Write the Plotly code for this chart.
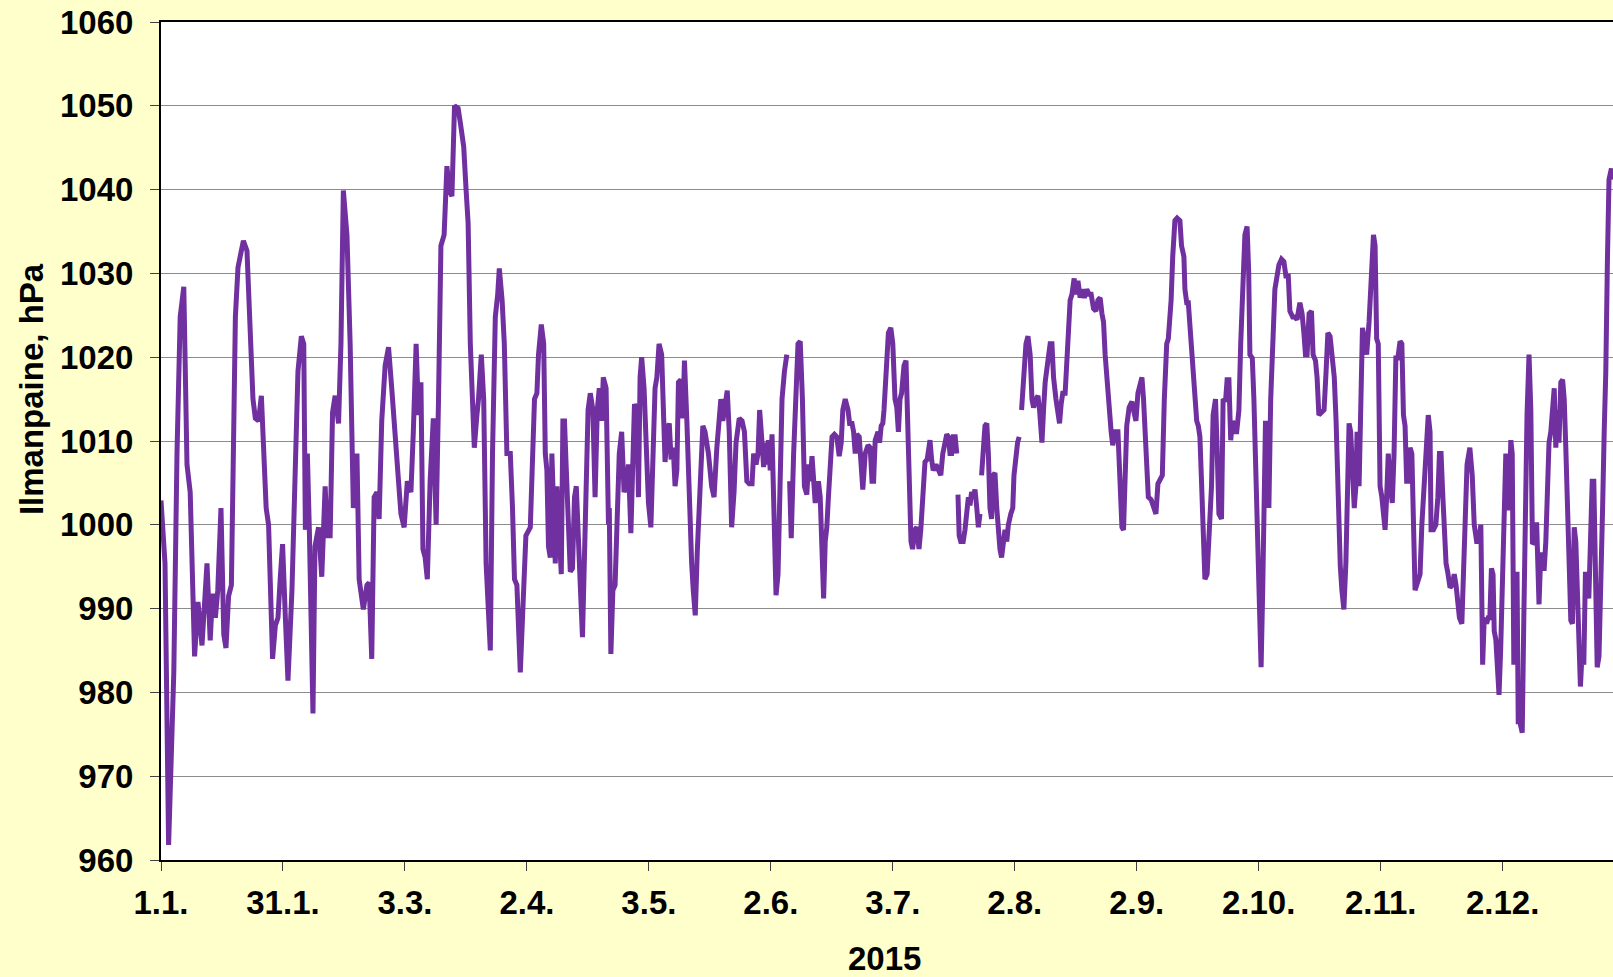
import plotly.graph_objects as go

# Air pressure 2015, day of year (0 = 1 Jan 00:00) and pressure in hPa.
# None marks missing observations (gaps in the line).
days = [
    0.0, 1.0, 1.9, 3.2, 4.0, 4.8, 5.7, 6.5, 7.3, 7.75, 8.4, 9.25, 10.25, 11.5, 12.3, 12.9, 13.6, 14.2,
    15.0, 15.7, 16.25, 16.9, 17.6, 18.2, 18.6, 19.25, 19.8, 20.6, 21.5, 22.3, 23.0, 23.6, 24.4, 25.1,
    25.7, 26.3, 26.9, 27.3, 27.9, 28.6, 29.25, 29.8, 30.4, 31.1, 31.75, 32.75, 33.6, 34.25, 35.1, 35.7,
    36.1, 36.6, 37.1, 38.0, 38.5, 39.4, 40.2, 41.05, 41.6, 42.3, 42.9, 43.55, 44.4, 45.0, 45.6, 46.5,
    47.3, 48.1, 49.0, 49.55, 50.6, 51.5, 52.05, 52.7, 53.3, 54.0, 54.55, 55.2, 56.05, 56.9, 57.7, 58.55,
    59.4, 60.0, 60.8, 61.6, 62.5, 63.1, 63.8, 64.4, 65.0, 65.5, 66.05, 66.6, 67.3, 68.1, 68.8, 69.4,
    70.0, 70.8, 71.5, 72.1, 72.75, 73.4, 74.3, 74.85, 75.7, 76.3, 76.8, 77.35, 77.8, 78.35, 79.0, 79.4,
    80.1, 80.7, 81.3, 81.8, 82.35, 82.9, 83.6, 84.2, 84.6, 85.3, 85.85, 86.5, 87.35, 87.9, 88.4, 89.0,
    89.85, 90.4, 90.85, 91.25, 92.35, 92.9, 93.4, 94.0, 94.4, 95.1, 95.7, 96.1, 96.5, 96.9, 97.35, 97.75,
    98.2, 98.6, 99.0, 99.6, 100.1, 100.5, 100.9, 101.3, 101.8, 102.35, 102.9, 103.4, 103.85, 104.25,
    104.85, 105.4, 106.1, 106.8, 107.35, 108.0, 108.55, 109.1, 109.6, 110.2, 110.6, 111.3, 111.9, 112.1,
    112.5, 113.0, 113.55, 114.1, 114.6, 115.2, 115.8, 116.3, 116.9, 117.5, 118.0, 118.4, 119.0, 119.4,
    119.8, 120.2, 120.8, 121.3, 121.9, 122.5, 123.0, 123.55, 124.0, 124.55, 125.2, 125.6, 126.05, 126.6,
    127.1, 127.55, 128.1, 128.55, 129.0, 129.4, 130.0, 130.5, 130.9, 131.5, 131.9, 132.3, 132.7, 133.1,
    133.6, 134.1, 134.8, 135.5, 136.05, 136.9, 137.7, 138.3, 139.0, 139.4, 140.0, 140.5, 141.05, 141.6,
    142.1, 142.7, 143.3, 143.8, 144.6, 145.3, 145.9, 146.5, 147.1, 147.8, 148.2, 148.8, 149.3, 149.7,
    150.3, 150.7, 151.1, 151.5, 151.9, 152.35, 152.8, 153.2, 153.8, 154.3, 154.7, 155.3, 155.9, 156.5,
    156.85, 157.2, 157.6, 158.2, 158.6, 159.3, 159.85, 160.4, 160.9, 161.5, 161.9, 162.35, 162.8, 163.2,
    163.6, 164.0, 164.4, 164.85, 165.3, 165.7, 166.1, 166.5, 166.9, 167.35, 167.8, 168.4, 169.0, 169.6,
    170.1, 170.5, 171.1, 171.8, 172.2, 172.8, 173.2, 173.6, 174.0, 174.6, 175.1, 175.5, 176.1, 176.8,
    177.35, 177.8, 178.2, 178.6, 179.3, 179.7, 180.1, 180.5, 180.8, 181.3, 181.9, 182.5, 183.0, 183.55,
    184.0, 184.4, 184.8, 185.2, 185.8, 186.3, 186.7, 187.1, 187.55, 187.95, 188.5, 189.0, 189.55, 190.0,
    190.5, 191.05, 191.6, 192.3, 192.7, 193.1, 193.8, 194.4, 195.0, 195.5, 196.05, 196.5, 196.9, 197.3,
    197.7, 198.1, 198.6, 199.0, 199.15, 199.3, 199.6, 200.0, 200.6, 201.05, 201.5, 201.9, 202.3, 202.7,
    203.1, 203.55, 204.0, 204.4, 204.8, 205.0, 205.2, 205.6, 206.05, 206.5, 206.9, 207.3, 207.7, 208.1,
    208.55, 209.0, 209.4, 209.8, 210.2, 210.6, 211.05, 211.5, 211.9, 212.5, 213.0, 213.3, 213.8, 214.2,
    214.6, 214.9, 215.2, 215.8, 216.3, 216.8, 217.35, 217.8, 218.2, 218.8, 219.3, 219.7, 220.3, 220.7,
    221.1, 221.8, 222.35, 222.8, 223.2, 223.8, 224.3, 224.7, 225.1, 225.5, 226.1, 226.5, 226.9, 227.35,
    227.8, 228.35, 228.8, 229.3, 229.85, 230.3, 230.9, 231.5, 232.1, 232.6, 233.2, 233.8, 234.3, 234.85,
    235.3, 235.7, 236.1, 236.7, 237.1, 237.6, 238.0, 238.6, 239.3, 239.85, 240.3, 240.7, 241.1, 241.5,
    242.1, 242.8, 243.2, 243.8, 244.3, 244.85, 245.3, 245.7, 246.1, 246.5, 246.9, 247.6, 248.2, 248.8,
    249.3, 249.85, 250.4, 250.9, 251.5, 251.9, 252.6, 253.0, 253.55, 254.1, 254.8, 255.2, 255.8, 256.05,
    256.5, 256.9, 257.3, 257.7, 258.1, 258.55, 259.0, 259.4, 259.8, 260.2, 260.6, 261.05, 261.6, 262.1,
    262.7, 263.1, 263.7, 264.1, 264.55, 265.2, 265.6, 266.2, 266.6, 267.05, 267.5, 267.95, 268.55, 269.0,
    269.55, 270.0, 270.5, 271.05, 271.6, 272.0, 272.3, 272.9, 273.3, 273.7, 274.1, 274.5, 274.8, 275.1,
    275.5, 275.9, 276.2, 276.6, 277.05, 277.5, 278.0, 278.55, 279.0, 279.55, 280.2, 280.8, 281.3, 281.9,
    282.3, 283.0, 283.55, 284.1, 284.8, 285.35, 285.8, 286.2, 286.6, 287.1, 287.7, 288.1, 288.7, 289.1,
    289.55, 290.3, 290.85, 291.35, 291.8, 292.35, 292.9, 293.4, 293.85, 294.3, 294.6, 294.9, 295.3, 295.8,
    296.3, 296.7, 297.1, 297.5, 297.9, 298.4, 298.8, 299.1, 299.6, 300.0, 300.45, 300.9, 301.5, 302.1,
    302.6, 303.2, 303.6, 304.0, 304.4, 304.85, 305.3, 305.7, 306.1, 306.5, 306.9, 307.35, 307.9, 308.35,
    308.8, 309.3, 309.85, 310.3, 310.7, 311.1, 311.5, 311.9, 312.35, 312.8, 313.2, 313.6, 314.0, 314.45,
    314.85, 315.3, 315.7, 316.1, 316.5, 316.9, 317.35, 317.6, 318.2, 318.8, 319.3, 319.7, 320.1, 320.5,
    320.9, 321.35, 321.75, 322.35, 322.9, 323.4, 323.85, 324.3, 324.7, 325.3, 325.6, 326.1, 326.6, 327.3,
    327.9, 328.4, 329.0, 329.55, 330.05, 330.5, 330.9, 331.5, 331.9, 332.3, 332.7, 333.1, 333.4, 333.8,
    334.2, 334.6, 335.0, 335.5, 335.9, 336.3, 336.7, 337.1, 337.55, 337.9, 338.3, 338.7, 339.1, 339.4,
    339.8, 340.4, 340.8, 341.2, 341.6, 342.1, 342.55, 342.95, 343.55, 344.0, 344.2, 344.6, 345.05, 345.5,
    345.9, 346.3, 346.7, 347.1, 347.55, 347.95, 348.4, 348.8, 349.2, 349.6, 350.05, 350.5, 350.9, 351.3,
    351.7, 352.1, 352.55, 352.95, 353.4, 353.8, 354.1, 354.55, 354.95, 355.4, 355.8, 356.2, 356.65, 357.05,
    357.5, 357.9, 358.3, 358.75, 359.15, 359.6, 360.05, 360.5, 360.9, 361.3, 361.7, 362.1, 362.7, 363.1,
]

pressure_hpa = [
    1002.9, 995.4, 961.8, 982.4, 1008.5, 1024.8, 1028.4, 1007.2, 1003.9, 995.4, 984.3, 990.8, 985.6, 995.4, 986.2, 991.8, 988.9, 992.2,
    1002.0, 986.9, 985.3, 991.5, 992.8, 1011.8, 1024.8, 1030.7, 1032.0, 1033.9, 1032.7, 1024.8, 1015.0, 1012.7, 1012.4, 1015.4,
    1008.5, 1002.0, 1000.0, 992.2, 984.0, 988.0, 988.9, 993.5, 997.7, 988.9, 981.4, 992.2, 1008.5, 1018.3, 1022.5, 1021.6,
    999.4, 1008.5, 999.3, 977.5, 997.4, 999.7, 993.8, 1004.6, 998.7, 998.7, 1013.4, 1015.4, 1012.1, 1021.6, 1039.9, 1034.6,
    1021.6, 1002.0, 1008.5, 993.5, 989.9, 992.8, 993.1, 984.0, 1003.3, 1003.9, 1000.7, 1012.4, 1019.0, 1021.2, 1016.3, 1009.8,
    1005.2, 1001.3, 999.7, 1005.2, 1003.9, 1011.1, 1021.6, 1013.1, 1017.0, 997.1, 996.1, 993.5, 1005.2, 1012.7, 1000.0, 1015.0,
    1033.3, 1034.6, 1042.8, 1039.9, 1039.2, 1050.0, 1049.7, 1048.0, 1045.1, 1039.9, 1036.0, 1021.6, 1013.7, 1009.2, 1013.1, 1015.0,
    1020.3, 1015.0, 995.4, 988.9, 985.0, 1008.5, 1024.8, 1027.5, 1030.6, 1026.8, 1021.6, 1008.5, 1008.5, 1002.0, 993.5, 992.8,
    982.4, 988.9, 994.1, 998.7, 999.7, 1007.2, 1015.0, 1015.7, 1020.3, 1023.9, 1021.6, 1008.5, 1006.5, 997.4, 996.1, 1008.5,
    998.0, 995.4, 1004.6, 1000.0, 994.1, 1012.4, 1012.4, 1007.2, 1002.0, 994.4, 994.8, 1003.3, 1004.6, 998.7,
    992.8, 986.6, 1002.0, 1013.7, 1015.7, 1013.7, 1003.3, 1013.7, 1016.3, 1012.4, 1017.6, 1016.3, 1000.0, 1002.0,
    984.6, 992.2, 992.8, 1000.0, 1008.5, 1011.1, 1003.9, 1004.6, 1007.2, 999.0, 1008.5, 1014.4, 1013.7, 1003.3,
    1017.6, 1020.0, 1016.3, 1008.5, 1002.6, 999.7, 1008.5, 1016.3, 1017.6, 1021.6, 1020.3, 1012.4, 1007.5, 1011.1,
    1012.1, 1007.8, 1009.2, 1004.6, 1006.5, 1017.0, 1017.3, 1012.7, 1019.6, 1012.4, 1005.9, 1002.0, 995.4, 992.2,
    989.2, 996.7, 1005.2, 1011.8, 1011.1, 1008.5, 1004.6, 1003.3, 1009.2, 1011.1, 1015.0, 1012.4, 1014.4, 1016.0,
    1011.1, 999.7, 1003.9, 1009.8, 1012.7, 1012.4, 1011.1, 1005.2, 1004.9, 1004.9, 1008.5, 1007.2, 1008.5, 1013.7,
    1009.8, 1006.9, 1009.8, 1007.2, 1010.1, 1006.5, 1010.8, 1002.0, 991.6, 994.1, 1002.0, 1015.0, 1018.3, 1020.3,
    None, 1005.2, 998.4, 1008.5, 1015.0, 1021.6, 1021.9, 1015.0, 1004.6, 1003.6, 1007.2, 1005.2, 1008.2, 1005.2,
    1002.6, 1003.9, 1005.2, 1003.3, 995.4, 991.2, 998.0, 999.7, 1003.3, 1007.2, 1010.5, 1010.8, 1010.5, 1008.2,
    1009.8, 1013.7, 1015.0, 1013.7, 1012.1, 1012.1, 1011.1, 1008.5, 1010.8, 1010.5, 1005.2, 1004.2, 1008.5, 1009.5,
    1009.2, 1005.2, 1005.2, 1010.1, 1011.1, 1009.8, 1011.8, 1012.1, 1013.7, 1018.3, 1022.9, 1023.5, 1021.6, 1015.0,
    1014.0, 1011.1, 1015.0, 1015.7, 1019.0, 1019.6, 1013.7, 1008.5, 998.0, 997.1, 999.4, 999.7, 997.1, 999.4,
    1003.3, 1007.5, 1007.8, 1010.1, 1007.8, 1006.5, 1007.2, 1006.5, 1005.9, 1008.5, 1009.8, 1010.8, 1010.5, 1008.5,
    1008.5, 1010.5, 1010.5, 1008.5, None, 1003.6, 998.7, 998.0, 998.0, 999.4, 1002.0, 1003.3, 1002.3, 1003.9,
    1003.3, 1004.2, 1002.0, 999.7, 1001.3, None, 1005.9, 1009.2, 1011.8, 1012.1, 1008.5, 1002.0, 1000.7, 1005.9,
    1006.2, 1002.0, 998.0, 997.1, 996.1, 998.4, 999.4, 998.0, 1000.0, 1001.3, 1002.0, 1005.9, 1008.5, 1009.8,
    1010.5, None, 1013.7, 1017.6, 1021.6, 1022.5, 1020.3, 1015.0, 1014.0, 1015.0, 1015.4, 1013.7, 1009.8, 1013.7,
    1017.0, 1019.6, 1021.6, 1021.6, 1017.6, 1015.0, 1012.7, 1012.1, 1014.4, 1015.7, 1015.7, 1019.0, 1021.6, 1026.8,
    1027.5, 1029.4, 1027.5, 1029.1, 1027.1, 1028.1, 1027.1, 1028.1, 1027.5, 1027.5, 1025.8, 1025.5, 1026.8, 1027.1,
    1025.2, 1024.2, 1020.3, 1016.3, 1013.1, 1011.1, 1009.5, 1011.1, 1011.1, 1003.3, 999.7, 999.4, 1008.5, 1011.8,
    1014.0, 1014.7, 1013.7, 1012.4, 1015.7, 1017.0, 1017.6, 1015.0, 1010.5, 1005.9, 1003.3, 1003.0, 1002.0, 1001.3,
    1004.9, 1005.6, 1005.9, 1015.0, 1021.6, 1022.2, 1026.8, 1032.0, 1036.3, 1036.6, 1036.3, 1033.3, 1032.0, 1028.1,
    1026.5, 1026.5, 1023.5, 1021.6, 1018.3, 1015.0, 1012.4, 1011.8, 1010.5, 1005.2, 998.7, 993.5, 994.1, 999.4,
    1004.6, 1013.1, 1015.0, 1009.2, 1001.3, 1000.7, 1015.0, 1014.7, 1017.3, 1017.3, 1010.1, 1012.4, 1011.1, 1011.1,
    1013.7, 1021.6, 1029.4, 1034.6, 1035.6, 1030.1, 1020.3, 1019.9, 1015.0, 1006.5, 1003.3, 995.4, 986.3, 983.0,
    992.2, 1002.0, 1012.4, 1008.5, 1002.0, 1015.0, 1021.6, 1028.1, 1029.4, 1031.0, 1031.7, 1031.4, 1029.7, 1029.7,
    1025.5, 1024.8, 1024.8, 1024.5, 1026.5, 1025.2, 1022.9, 1020.3, 1020.3, 1025.2, 1025.5, 1020.3, 1019.6, 1017.6,
    1013.1, 1013.4, 1013.7, 1018.3, 1022.9, 1022.5, 1020.3, 1017.6, 1012.4, 1005.2, 995.4, 995.1, 992.2, 989.9,
    995.4, 1005.2, 1012.1, 1011.1, 1005.2, 1002.0, 1004.6, 1011.1, 1004.6, 1015.0, 1023.5, 1022.2, 1020.3, 1024.2,
    1030.7, 1034.6, 1033.3, 1022.2, 1021.6, 1004.6, 1003.3, 1000.7, 999.4, 1003.3, 1008.5, 1005.2, 1002.6, 1008.5,
    1019.9, 1019.9, 1021.9, 1021.6, 1013.1, 1011.8, 1005.2, 1005.2, 1009.2, 1008.5, 998.7, 992.2, 992.8, 993.8,
    994.1, 1000.0, 1002.6, 1006.5, 1009.8, 1013.1, 1011.1, 999.4, 999.4, 1000.0, 1003.3, 1008.5, 1008.5, 1003.9,
    998.0, 995.4, 994.4, 992.5, 992.8, 994.1, 992.8, 990.2, 988.9, 988.2, 992.8, 1002.0, 1007.2, 1009.2,
    1005.9, 1000.0, 998.0, 998.0, 1000.0, 983.3, 988.9, 988.2, 988.9, 988.9, 994.8, 994.1, 987.3, 986.3,
    982.4, 979.7, 985.0, 995.4, 1005.2, 1008.5, 1002.0, 1002.0, 1010.1, 1008.5, 983.3, 994.1, 994.1, 976.5,
    976.5, 975.2, 988.9, 1004.6, 1013.1, 1020.3, 1013.7, 997.7, 998.0, 1000.3, 994.1, 990.5, 996.7, 994.8,
    994.8, 998.0, 1003.9, 1009.8, 1011.1, 1013.7, 1016.3, 1009.2, 1013.7, 1009.8, 1017.0, 1017.3, 1015.0, 1009.2,
    1002.0, 995.4, 988.6, 988.2, 999.7, 998.0, 992.2, 988.9, 980.7, 985.0, 983.3, 994.1, 994.1, 991.2,
    998.0, 1005.2, 1005.2, 995.4, 983.0, 984.3, 991.5, 1002.0, 1011.1, 1018.3, 1031.4, 1041.2, 1042.5, 1041.2,
]

# Date labels placed every 30.5 days along the year
tick_days = [0, 30.5, 61, 91.5, 122, 152.5, 183, 213.5, 244, 274.5, 305, 335.5]
tick_labels = ["1.1.", "31.1.", "3.3.", "2.4.", "3.5.", "2.6.", "3.7.", "2.8.", "2.9.", "2.10.", "2.11.", "2.12."]
y_ticks = list(range(960, 1061, 10))

FONT = dict(family="Arial", size=33, color="black", weight="bold")

fig = go.Figure()
fig.add_trace(go.Scatter(
    x=days, y=pressure_hpa, mode="lines",
    line=dict(color="#7030A0", width=5),
    connectgaps=False, hoverinfo="skip",
))

fig.update_layout(
    width=1613, height=977,
    margin=dict(l=161, r=0, t=22, b=117),
    paper_bgcolor="#FFFFCC", plot_bgcolor="white",
    showlegend=False,
    font=FONT,
    annotations=[
        dict(text="Ilmanpaine, hPa", textangle=-90, xref="paper", yref="paper",
             x=-0.0895, y=0.562, xanchor="center", yanchor="middle",
             showarrow=False, font=FONT),
        dict(text="2015", xref="paper", yref="paper",
             x=0.4984, y=-0.1178, xanchor="center", yanchor="middle",
             showarrow=False, font=FONT),
    ],
)

fig.update_xaxes(
    range=[0, 363.1], tickmode="array", tickvals=tick_days, ticktext=tick_labels,
    showgrid=False, zeroline=False,
    showline=True, linecolor="black", linewidth=2, mirror=True,
    ticks="outside", ticklen=9, tickwidth=1, tickcolor="#404040",
    ticklabelstandoff=3, tickfont=FONT,
)
fig.update_yaxes(
    range=[960, 1060], tickmode="array", tickvals=y_ticks,
    showgrid=True, gridcolor="#8C8C8C", gridwidth=1, zeroline=False,
    showline=True, linecolor="black", linewidth=2,
    ticks="outside", ticklen=9, tickwidth=1, tickcolor="#404040",
    ticklabelstandoff=10, tickfont=FONT,
)

fig.write_html("out.html")
